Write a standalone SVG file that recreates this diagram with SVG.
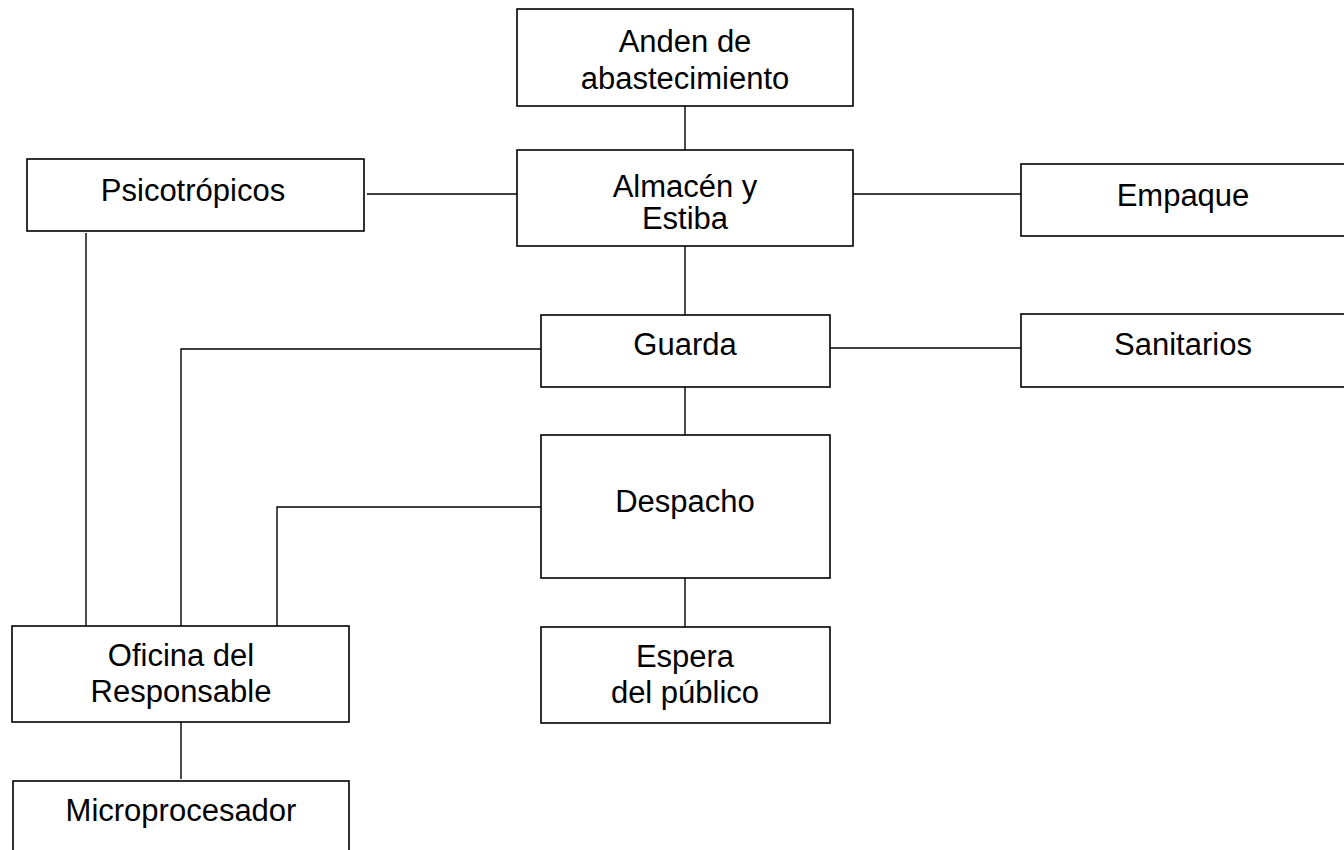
<svg xmlns="http://www.w3.org/2000/svg" width="1344" height="850" viewBox="0 0 1344 850">
<style>
.box{fill:#fff;stroke:#000;stroke-width:1.6}
.ln{fill:none;stroke:#000;stroke-width:1.4}
text{font-family:"Liberation Sans",Arial,sans-serif;font-size:31px;fill:#000;text-anchor:middle}
</style>
<rect width="1344" height="850" fill="#fff"/>
<g id="connectors">
<path class="ln" d="M685 106V150"/>
<path class="ln" d="M367 194H517"/>
<path class="ln" d="M853 194H1021"/>
<path class="ln" d="M685 246V315"/>
<path class="ln" d="M830 348H1021"/>
<path class="ln" d="M541 349H181V626"/>
<path class="ln" d="M86 233V626"/>
<path class="ln" d="M541 507H277V626"/>
<path class="ln" d="M685 387V435"/>
<path class="ln" d="M685 578V627"/>
<path class="ln" d="M181 722V779"/>
</g>
<g id="anden"><rect class="box" x="517" y="9" width="336" height="97"/><text x="685" y="52">Anden de</text><text x="685" y="89">abastecimiento</text></g>
<g id="almacen"><rect class="box" x="517" y="150" width="336" height="96"/><text x="685" y="197">Almacén y</text><text x="685" y="229">Estiba</text></g>
<g id="psicotropicos"><rect class="box" x="27" y="159" width="337" height="72"/><text x="193" y="201">Psicotrópicos</text></g>
<g id="empaque"><rect class="box" x="1021" y="164" width="330" height="72"/><text x="1183" y="206">Empaque</text></g>
<g id="guarda"><rect class="box" x="541" y="315" width="289" height="72"/><text x="685" y="355">Guarda</text></g>
<g id="sanitarios"><rect class="box" x="1021" y="314" width="330" height="73"/><text x="1183" y="355">Sanitarios</text></g>
<g id="despacho"><rect class="box" x="541" y="435" width="289" height="143"/><text x="685" y="512">Despacho</text></g>
<g id="espera"><rect class="box" x="541" y="627" width="289" height="96"/><text x="685" y="667">Espera</text><text x="685" y="703">del público</text></g>
<g id="oficina"><rect class="box" x="12" y="626" width="337" height="96"/><text x="181" y="666">Oficina del</text><text x="181" y="702">Responsable</text></g>
<g id="microprocesador"><rect class="box" x="13" y="781" width="336" height="90"/><text x="181" y="821">Microprocesador</text></g>
</svg>
